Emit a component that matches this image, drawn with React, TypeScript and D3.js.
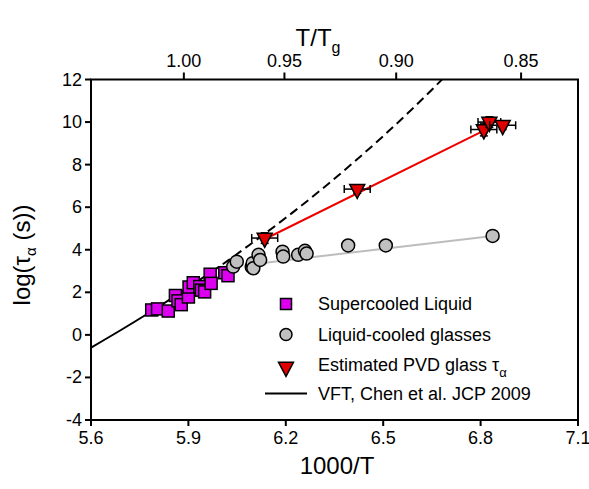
import React from "react";
import * as d3 from "d3";

// ---- data ----
const xTicks = [5.6, 5.9, 6.2, 6.5, 6.8, 7.1];
const yTicks = [-4, -2, 0, 2, 4, 6, 8, 10, 12];
const topTicks = [1.0, 0.95, 0.9, 0.85];
const invTg = 5.886; // 1000/Tg

const liqX = [5.787, 5.805, 5.838, 5.86, 5.868, 5.878, 5.9, 5.902, 5.915, 5.935, 5.94, 5.95, 5.967, 5.97, 6.012, 6.022];
const liqY = [1.17, 1.22, 1.12, 1.85, 1.6, 1.42, 1.78, 2.25, 2.45, 2.27, 2.1, 2.02, 2.85, 2.42, 2.92, 2.78];

const glassX = [6.038, 6.049, 6.095, 6.098, 6.1, 6.116, 6.121, 6.19, 6.192, 6.238, 6.259, 6.264, 6.392, 6.508, 6.837];
const glassY = [3.21, 3.44, 3.2, 3.37, 3.13, 3.76, 3.52, 3.91, 3.68, 3.76, 3.95, 3.82, 4.2, 4.2, 4.65];
const glassFitX = [6.13, 6.837];
const glassFitY = [3.38, 4.65];

const pvdX = [6.135, 6.42, 6.81, 6.827, 6.868];
const pvdY = [4.55, 6.85, 9.65, 10.0, 9.85];
const pvdXErr = [0.04, 0.04, 0.04, 0.035, 0.04];
const pvdYErr = [0.25, 0.2, 0.3, 0.25, 0.2];
const pvdFitX = [6.15, 6.81];
const pvdFitY = [4.61, 9.6];

const vftX = [5.6, 5.7, 5.8, 5.9, 5.97, 6.0, 6.1, 6.2, 6.3, 6.4, 6.5, 6.6, 6.7];
const vftY = [-0.6, 0.3, 1.24, 2.23, 2.95, 3.26, 4.36, 5.5, 6.71, 7.99, 9.34, 10.77, 12.29];
const vftSolidEnd = 5.97;

export default function App() {
  const W = 589, H = 489;
  const L = 91, R = 578, T = 79.5, B = 420;
  const x = d3.scaleLinear().domain([5.6, 7.1]).range([L, R]);
  const y = d3.scaleLinear().domain([-4, 12]).range([B, T]);
  const font = "'Liberation Sans', Arial, sans-serif";

  const vftPts = vftX.map((v, i) => [v, vftY[i]] as [number, number]);
  const line = d3.line<[number, number]>().x(d => x(d[0])).y(d => y(d[1])).curve(d3.curveMonotoneX);
  const solidPts = vftPts.filter(p => p[0] <= vftSolidEnd);
  const dashPts = vftPts.filter(p => p[0] >= vftSolidEnd);

  const sq = 12;
  const tri = (cx: number, cy: number) => {
    const w = 7.5, h = 4.7;
    return `M${cx - w},${cy - h}L${cx + w},${cy - h}L${cx},${cy + 2 * h}Z`;
  };

  return (
    <svg width={W} height={H} style={{ display: "block", position: "absolute", left: 0, top: 0 }} fontFamily={font}>
      <rect width={W} height={H} fill="#fff" />
      <defs>
        <clipPath id="plot">
          <rect x={L} y={T} width={R - L} height={B - T} />
        </clipPath>
      </defs>

      {/* curves */}
      <g clipPath="url(#plot)">
        <path d={line(solidPts) || ""} fill="none" stroke="#000" strokeWidth={2} />
        <path d={line(dashPts) || ""} fill="none" stroke="#000" strokeWidth={2} strokeDasharray="9,5" />
        <path d={line(glassFitX.map((v, i) => [v, glassFitY[i]] as [number, number])) || ""} fill="none" stroke="#bdbdbd" strokeWidth={2} />
        <path d={line(pvdFitX.map((v, i) => [v, pvdFitY[i]] as [number, number])) || ""} fill="none" stroke="#ee0000" strokeWidth={2} />
      </g>

      {/* supercooled liquid */}
      {liqX.map((v, i) => (
        <rect key={"s" + i} x={x(v) - sq / 2} y={y(liqY[i]) - sq / 2} width={sq} height={sq} fill="#dd00f0" stroke="#000" strokeWidth={1.5} />
      ))}
      {/* glasses */}
      {glassX.map((v, i) => (
        <circle key={"c" + i} cx={x(v)} cy={y(glassY[i])} r={6.5} fill="#c0c0c0" stroke="#000" strokeWidth={1.5} />
      ))}
      {/* PVD */}
      {pvdX.map((v, i) => {
        const cx = x(v), cy = y(pvdY[i]);
        const x0 = x(v - pvdXErr[i]), x1 = x(v + pvdXErr[i]);
        const y0 = y(pvdY[i] - pvdYErr[i]), y1 = y(pvdY[i] + pvdYErr[i]);
        return (
          <g key={"t" + i} stroke="#000" strokeWidth={1.5}>
            <line x1={x0} x2={x1} y1={cy} y2={cy} />
            <line x1={x0} x2={x0} y1={cy - 4} y2={cy + 4} />
            <line x1={x1} x2={x1} y1={cy - 4} y2={cy + 4} />
            <line x1={cx} x2={cx} y1={y0} y2={y1} />
            <line x1={cx - 4} x2={cx + 4} y1={y0} y2={y0} />
            <line x1={cx - 4} x2={cx + 4} y1={y1} y2={y1} />
            <path d={tri(cx, cy)} fill="#e00000" />
          </g>
        );
      })}

      {/* frame */}
      <rect x={L} y={T} width={R - L} height={B - T} fill="none" stroke="#000" strokeWidth={2} />

      {/* bottom axis */}
      {xTicks.map(t => (
        <g key={"xt" + t}>
          <line x1={x(t)} x2={x(t)} y1={B} y2={B + 6} stroke="#000" strokeWidth={2} />
          <text x={x(t)} y={B + 24} fontSize={18} textAnchor="middle">{t.toFixed(1)}</text>
        </g>
      ))}
      {/* left axis */}
      {yTicks.map(t => (
        <g key={"yt" + t}>
          <line x1={L - 6} x2={L} y1={y(t)} y2={y(t)} stroke="#000" strokeWidth={2} />
          <text x={L - 9} y={y(t) + 6} fontSize={18} textAnchor="end">{t}</text>
        </g>
      ))}
      {/* top axis */}
      {topTicks.map(t => (
        <g key={"tt" + t}>
          <line x1={x(invTg / t)} x2={x(invTg / t)} y1={T - 7} y2={T} stroke="#000" strokeWidth={2} />
          <text x={x(invTg / t)} y={T - 13} fontSize={18} textAnchor="middle">{t.toFixed(2)}</text>
        </g>
      ))}

      {/* axis titles */}
      <text x={337} y={474} fontSize={24} textAnchor="middle">1000/T</text>
      <text x={318} y={46} fontSize={24} textAnchor="middle">
        T/T<tspan dy={7} fontSize={16}>g</tspan>
      </text>
      <text transform="translate(30,255) rotate(-90)" fontSize={24} textAnchor="middle">
        log(τ<tspan dy={6} fontSize={15}>α</tspan><tspan dy={-6}> (s))</tspan>
      </text>

      {/* legend */}
      <rect x={286 - 5.5} y={304 - 5.5} width={11} height={11} fill="#dd00f0" stroke="#000" strokeWidth={1.5} />
      <text x={318} y={310} fontSize={18}>Supercooled Liquid</text>
      <circle cx={286} cy={334.5} r={6} fill="#c0c0c0" stroke="#000" strokeWidth={1.5} />
      <text x={318} y={341} fontSize={18}>Liquid-cooled glasses</text>
      <path d={tri(286, 367)} fill="#e00000" stroke="#000" strokeWidth={1.5} />
      <text x={318} y={371} fontSize={18}>
        Estimated PVD glass τ<tspan dy={6} fontSize={13}>α</tspan>
      </text>
      <line x1={265} x2={307} y1={393.5} y2={393.5} stroke="#000" strokeWidth={2} />
      <text x={318} y={400} fontSize={18}>VFT, Chen et al. JCP 2009</text>
    </svg>
  );
}
